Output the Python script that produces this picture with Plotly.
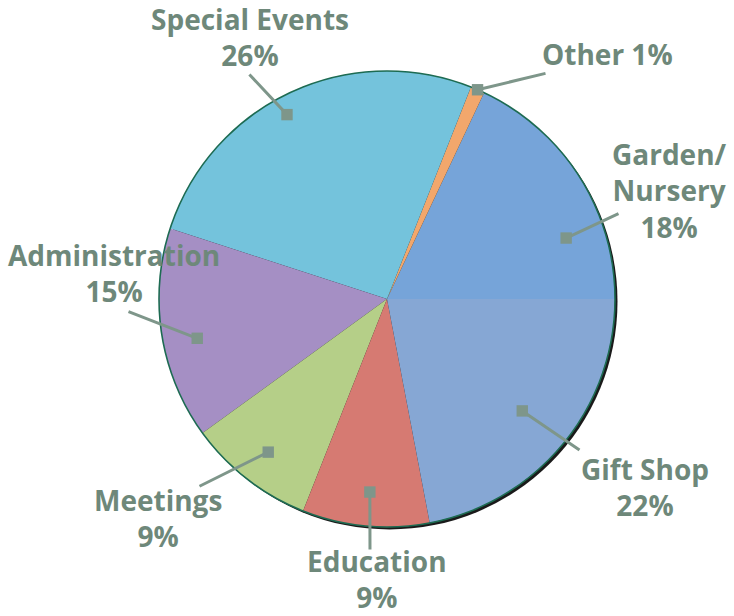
import numpy as np
import plotly.graph_objects as go

# ---------------- data ----------------
categories = ["Garden/Nursery", "Other", "Special Events", "Administration",
              "Meetings", "Education", "Gift Shop"]
shares = [18, 1, 26, 15, 9, 9, 22]
display_names = ["Garden/<br>Nursery", "Other", "Special Events", "Administration",
                 "Meetings", "Education", "Gift Shop"]
inline_percent = [False, True, False, False, False, False, False]

# ---------------- style ----------------
slice_colors = ["#76a4d9", "#f2a76c", "#74c3dc", "#a58fc4", "#b5cf88", "#d67a72", "#86a7d4"]
text_color = "#6e887a"
leader_color = "#7e968a"

W, H = 734, 616
CX, CY, R = 387, 299, 228          # pie centre / radius in pixels

# label layout (pixel centre of label block), leader tail, head placement
label_center = [(669, 190), (607, 54), (250, 37), (114, 273), (158, 518), (377, 579), (645, 487)]
leader_tail = [(620, 213), (547, 73), (248, 73), (127, 311), (198, 487), (370, 551), (581, 451)]
head_angle_frac = [0.29, 0.5, 0.535, 0.55, 0.5, 0.51, 0.5]
head_radius_frac = [0.83, 1.0, 0.92, 0.85, 0.85, 0.85, 0.77]


def px(x):
    return x / W


def py(y):
    return 1 - y / H


total = float(sum(shares))

fig = go.Figure()

fig.add_trace(go.Pie(
    labels=categories,
    values=shares,
    sort=False,
    direction="counterclockwise",
    # first slice begins at 3 o'clock and runs counter-clockwise
    rotation=90 - 360.0 * shares[0] / total,
    marker=dict(colors=slice_colors, line=dict(width=0)),
    textinfo="none",
    hoverinfo="label+percent",
    showlegend=False,
    domain=dict(x=[px(CX - R), px(CX + R)], y=[py(CY + R), py(CY - R)]),
))

shapes = [
    # dark shadow on the lower right
    dict(type="circle", xref="paper", yref="paper", layer="below",
         x0=px(CX - R + 2.5), x1=px(CX + R + 2.5), y0=py(CY + R + 2.5), y1=py(CY - R + 2.5),
         fillcolor="#1a1a1a", line=dict(width=0)),
    # outline
    dict(type="circle", xref="paper", yref="paper", layer="above",
         x0=px(CX - R), x1=px(CX + R), y0=py(CY + R), y1=py(CY - R),
         line=dict(color="#1d6b52", width=1.6)),
]

annotations = []
start = 0.0
for i, v in enumerate(shares):
    span = 360.0 * v / total
    ang = np.deg2rad(start + span * head_angle_frac[i])
    start += span
    hx = CX + head_radius_frac[i] * R * np.cos(ang)
    hy = CY - head_radius_frac[i] * R * np.sin(ang)
    tx, ty = leader_tail[i]
    annotations.append(dict(
        x=px(hx), y=py(hy), xref="paper", yref="paper", text="",
        showarrow=True, arrowhead=7, arrowsize=0.95, arrowwidth=3,
        arrowcolor=leader_color, ax=tx - hx, ay=ty - hy, standoff=0,
    ))
    sep = " " if inline_percent[i] else "<br>"
    lx, ly = label_center[i]
    annotations.append(dict(
        x=px(lx), y=py(ly), xref="paper", yref="paper",
        text=display_names[i] + sep + f"{v}%", showarrow=False,
        xanchor="center", yanchor="middle", align="center",
        font=dict(family="Open Sans", size=28, color=text_color, weight="bold"),
    ))

fig.update_layout(
    width=W, height=H, autosize=False,
    margin=dict(l=0, r=0, t=0, b=0),
    paper_bgcolor="white", plot_bgcolor="white",
    shapes=shapes, annotations=annotations,
)

fig.write_html("out.html", config={"displayModeBar": False},
               post_script="document.body.style.margin='0';")
